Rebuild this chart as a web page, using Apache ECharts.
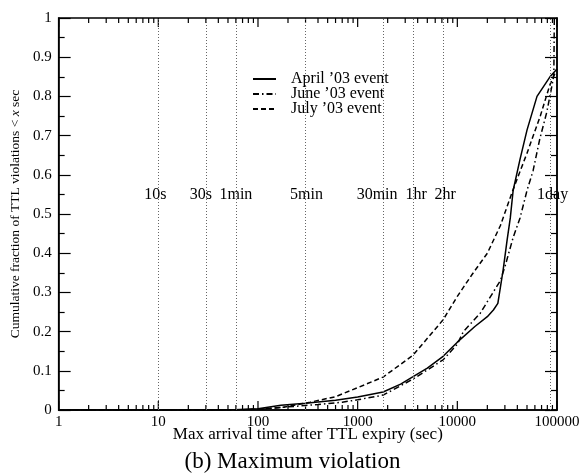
<!DOCTYPE html>
<html>
<head>
<meta charset="utf-8">
<script src="https://cdn.jsdelivr.net/npm/echarts@6/dist/echarts.min.js"></script>
<style>
  html, body {margin:0; padding:0; background:#fff;}
  #main {width:585px; height:474px;}
</style>
</head>
<body>
<div id="main"></div>
<script>
'use strict';

// data: [seconds, cumulative fraction]
var aprilData = [[1,0],[50,0],[100,0.003],[170,0.012],[300,0.017],[600,0.025],[1000,0.033],
    [1800,0.046],[2700,0.066],[3600,0.085],[5000,0.107],[7200,0.137],[10000,0.173],[15000,0.213],
    [20000,0.238],[23000,0.255],[25500,0.272],[28800,0.357],[31600,0.434],[34000,0.49],
    [36300,0.56],[42600,0.64],[50000,0.714],[63000,0.8],[85000,0.85],[100000,0.87]];
var juneData = [[1,0],[60,0],[120,0.003],[200,0.008],[400,0.014],[700,0.02],[1000,0.026],
    [1800,0.038],[3600,0.079],[7200,0.128],[10000,0.168],[11500,0.2],[17000,0.247],
    [27000,0.33],[30000,0.365],[36300,0.44],[42600,0.49],[50000,0.56],[57500,0.61],
    [67000,0.69],[79000,0.76],[91000,0.84],[93000,0.86],[94000,1]];
var julyData = [[1,0],[60,0],[100,0.002],[180,0.007],[335,0.02],[600,0.034],[1000,0.057],
    [1800,0.084],[3600,0.14],[7200,0.23],[10000,0.29],[14000,0.345],[20000,0.4],[27000,0.47],
    [36000,0.56],[50000,0.655],[68000,0.75],[85000,0.83],[100000,0.87]];

// reference times marked with dotted lines
var markTimes = [10, 30, 60, 300, 1800, 3600, 7200, 86400];
var markNames = ['10s', '30s', '1min', '5min', '30min', '1hr', '2hr', '1day'];
var markLabelY = 0.55;

// log axis ticks
var xMajorTicks = [1, 10, 100, 1000, 10000, 100000];
var xMinorTicks = [];
xMajorTicks.slice(0, 5).forEach(function (d) {
    for (var k = 2; k <= 9; k++) { xMinorTicks.push(d * k); }
});

// small pixel shifts so the labels sit like in the original figure
var markLabelShift = [-3, -5, 0, 1, -6, 3, 2, 2];

var font = '"Liberation Serif", "DejaVu Serif", serif';

var tickData = xMajorTicks.map(function (v) { return [v, 1]; })
    .concat(xMinorTicks.map(function (v) { return [v, 0]; }));

var chart = echarts.init(document.getElementById('main'));

var option = {
    animation: false,
    graphic: [{
        type: 'text',
        left: 'center',
        top: 450,
        style: {
            text: '(b) Maximum violation',
            font: '23px ' + font,
            fill: '#000'
        }
    }],
    legend: {
        orient: 'vertical',
        left: 252,
        top: 71,
        padding: 0,
        itemWidth: 23,
        itemHeight: 8,
        itemGap: -1,
        itemStyle: {opacity: 0},
        textStyle: {fontFamily: font, fontSize: 16, lineHeight: 15, color: '#000', padding: [0, 0, 0, 10]},
        data: ['April ’03 event', 'June ’03 event', 'July ’03 event']
    },
    grid: {
        left: 58, right: 28, top: 18, bottom: 64,
        show: true, borderColor: '#000', borderWidth: 1.5
    },
    xAxis: {
        type: 'log',
        logBase: 10,
        min: 1,
        max: 100000,
        name: 'Max arrival time after TTL expiry (sec)',
        nameLocation: 'middle',
        nameGap: 16,
        nameMoveOverlap: false,
        nameTextStyle: {fontFamily: font, fontSize: 17, color: '#000', verticalAlign: 'top'},
        axisLine: {lineStyle: {color: '#000', width: 1.5}},
        axisTick: {show: false},
        splitLine: {show: false},
        axisLabel: {
            margin: 5,
            fontFamily: font, fontSize: 15, color: '#000',
            formatter: function (v) { return String(Math.round(v)); }
        }
    },
    yAxis: [{
        type: 'value',
        min: 0,
        max: 1,
        interval: 0.1,
        name: '{a|Cumulative fraction of TTL violations < }{i|x}{a| sec}',
        nameLocation: 'middle',
        nameGap: 36,
        nameTextStyle: {
            rich: {
                a: {fontFamily: font, fontSize: 13.5, color: '#000'},
                i: {fontFamily: font, fontSize: 13.5, fontStyle: 'italic', color: '#000'}
            }
        },
        axisLine: {show: true, lineStyle: {color: '#000', width: 1.5}},
        axisTick: {inside: true, length: 12, lineStyle: {color: '#000', width: 1.2}},
        minorTick: {show: true, splitNumber: 2, length: 6, lineStyle: {color: '#000', width: 1.2}},
        splitLine: {show: false},
        axisLabel: {margin: 7, fontFamily: font, fontSize: 15, color: '#000'}
    }, {
        type: 'value',
        position: 'right',
        min: 0,
        max: 1,
        interval: 0.1,
        axisLine: {show: true, lineStyle: {color: '#000', width: 1.5}},
        axisTick: {inside: true, length: 12, lineStyle: {color: '#000', width: 1.2}},
        minorTick: {show: true, splitNumber: 2, length: 6, lineStyle: {color: '#000', width: 1.2}},
        splitLine: {show: false},
        axisLabel: {show: false}
    }],
    series: [
        {
            // dotted reference lines
            type: 'line',
            data: [],
            silent: true,
            markLine: {
                silent: true,
                symbol: 'none',
                label: {show: false},
                lineStyle: {color: '#666', type: [1, 2], width: 1},
                data: markTimes.map(function (t) { return {xAxis: t}; })
            }
        },
        {
            // labels of the reference lines
            type: 'custom',
            silent: true,
            z: 5,
            renderItem: function (params, api) {
                var p = api.coord([api.value(0), api.value(1)]);
                return {
                    type: 'text',
                    x: p[0] + markLabelShift[params.dataIndex],
                    y: p[1],
                    style: {
                        text: markNames[params.dataIndex],
                        font: '16px ' + font,
                        fill: '#000',
                        align: 'center',
                        verticalAlign: 'middle'
                    }
                };
            },
            data: markTimes.map(function (t) { return [t, markLabelY]; })
        },
        {
            // log ticks on bottom and top edges
            type: 'custom',
            silent: true,
            renderItem: function (params, api) {
                var bottom = api.coord([api.value(0), 0]);
                var top = api.coord([api.value(0), 1]);
                var len = api.value(1) ? 9 : 5;
                var style = {stroke: '#000', lineWidth: 1.2};
                return {
                    type: 'group',
                    children: [
                        {type: 'line', shape: {x1: bottom[0], y1: bottom[1], x2: bottom[0], y2: bottom[1] - len}, style: style},
                        {type: 'line', shape: {x1: top[0], y1: top[1], x2: top[0], y2: top[1] + len}, style: style}
                    ]
                };
            },
            data: tickData
        },
        {
            name: 'April ’03 event',
            type: 'line',
            symbol: 'none',
            lineStyle: {color: '#000', width: 1.5, type: 'solid'},
            itemStyle: {color: '#000'},
            data: aprilData
        },
        {
            name: 'June ’03 event',
            type: 'line',
            symbol: 'none',
            lineStyle: {color: '#000', width: 1.5, type: [6, 3, 1.5, 3]},
            itemStyle: {color: '#000'},
            data: juneData
        },
        {
            name: 'July ’03 event',
            type: 'line',
            symbol: 'none',
            lineStyle: {color: '#000', width: 1.5, type: [5, 3]},
            itemStyle: {color: '#000'},
            data: julyData
        }
    ]
};

chart.setOption(option);
</script>
</body>
</html>
